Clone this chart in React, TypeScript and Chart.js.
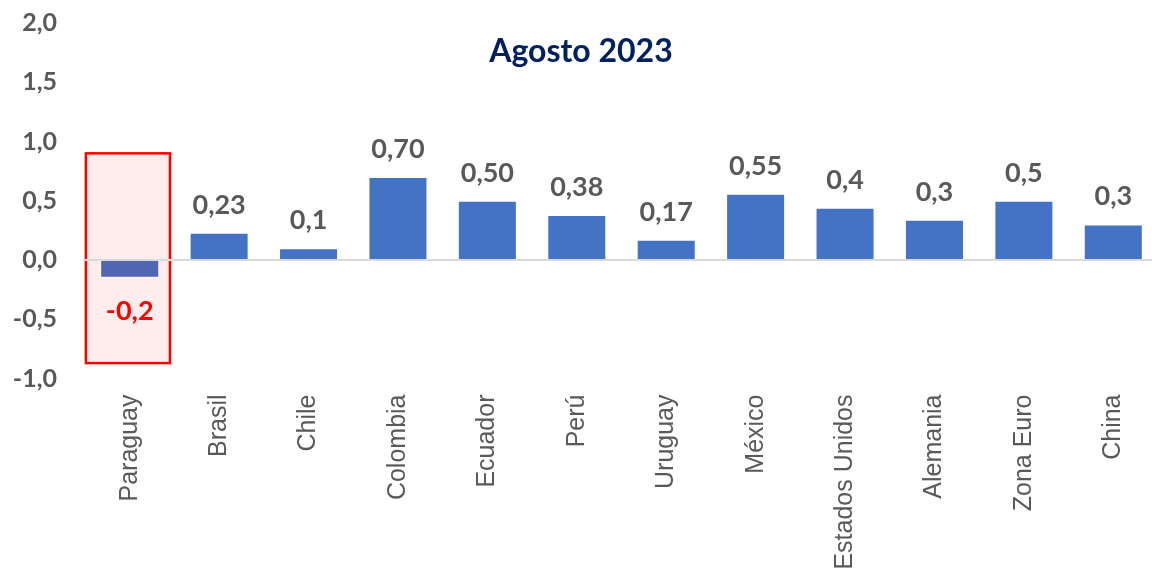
import React, { useEffect, useRef } from "react";
import { Chart, registerables } from "chart.js";

Chart.register(...registerables);

const categories = ["Paraguay", "Brasil", "Chile", "Colombia", "Ecuador", "Perú", "Uruguay", "México", "Estados Unidos", "Alemania", "Zona Euro", "China"];
const values = [-0.15, 0.23, 0.1, 0.7, 0.5, 0.38, 0.17, 0.56, 0.44, 0.34, 0.5, 0.3];
const valueLabels = ["-0,2", "0,23", "0,1", "0,70", "0,50", "0,38", "0,17", "0,55", "0,4", "0,3", "0,5", "0,3"];
const barColors = ["#5066B3", "#4472C4", "#4472C4", "#4472C4", "#4472C4", "#4472C4", "#4472C4", "#4472C4", "#4472C4", "#4472C4", "#4472C4", "#4472C4"];
const yTicks = [-1, -0.5, 0, 0.5, 1, 1.5, 2];
const titleText = "Agosto 2023";
const highlightRange = [0.9, -0.87];

const numFont = "Lato, 'Open Sans', sans-serif";

const overlayPlugin = {
  id: "overlay",
  beforeDraw(chart: any) {
    const { ctx, scales } = chart;
    const x = scales.x;
    const y = scales.y;
    const w = x.getPixelForValue(1) - x.getPixelForValue(0);
    const c = x.getPixelForValue(0);
    const left = c - 0.49 * w;
    const right = c + 0.45 * w;
    const top = y.getPixelForValue(highlightRange[0]);
    const bottom = y.getPixelForValue(highlightRange[1]);
    ctx.save();
    ctx.fillStyle = "#FFECEC";
    ctx.fillRect(left, top, right - left, bottom - top);
    ctx.lineWidth = 2.5;
    ctx.strokeStyle = "#FF0000";
    ctx.strokeRect(left, top, right - left, bottom - top);
    ctx.restore();
  },
  afterDatasetsDraw(chart: any) {
    const { ctx } = chart;
    const meta = chart.getDatasetMeta(0);
    ctx.save();
    ctx.textAlign = "center";
    ctx.textBaseline = "alphabetic";
    meta.data.forEach((bar: any, i: number) => {
      const v = values[i];
      if (v < 0) {
        ctx.fillStyle = "#FF0000";
        ctx.font = `bold 27px ${numFont}`;
        ctx.fillText(valueLabels[i], bar.x, bar.y + 42);
      } else {
        ctx.fillStyle = "#595959";
        ctx.font = `bold 27px ${numFont}`;
        ctx.fillText(valueLabels[i], bar.x, bar.y - 19);
      }
    });
    // title
    ctx.fillStyle = "#002060";
    ctx.font = `bold 32px ${numFont}`;
    ctx.fillText(titleText, 581, 62);
    ctx.restore();
  },
};

export default function App() {
  const ref = useRef<HTMLCanvasElement>(null);
  useEffect(() => {
    document.body.style.margin = "0";
    const chart = new Chart(ref.current as HTMLCanvasElement, {
      type: "bar",
      data: {
        labels: categories,
        datasets: [
          {
            data: values,
            backgroundColor: barColors,
            borderColor: "rgba(255,255,255,0.3)",
            borderWidth: 1,
            barPercentage: 0.66,
            categoryPercentage: 1,
          },
        ],
      },
      options: {
        animation: false,
        responsive: true,
        maintainAspectRatio: false,
        layout: { padding: { top: 23, right: 2, left: 0, bottom: 0 } },
        plugins: { legend: { display: false }, tooltip: { enabled: false }, title: { display: false } },
        scales: {
          x: {
            grid: { display: false, drawTicks: false },
            border: { display: false },
            afterFit: (s: any) => {
              s.height = 201.5;
            },
            ticks: {
              autoSkip: false,
              minRotation: 90,
              maxRotation: 90,
              padding: 16,
              color: "#595959",
              font: { family: "'Liberation Sans', Arial, sans-serif", size: 25 },
            },
          },
          y: {
            min: -1,
            max: 2,
            afterBuildTicks: (s: any) => {
              s.ticks = yTicks.map((v) => ({ value: v }));
            },
            afterFit: (s: any) => {
              s.width = 85;
              s.paddingTop = 0;
              s.paddingBottom = 0;
            },
            grid: {
              drawTicks: false,
              lineWidth: 2,
              color: (c: any) => (c.tick && c.tick.value === 0 ? "#D9D9D9" : "transparent"),
            },
            border: { display: false },
            ticks: {
              padding: 28,
              color: "#595959",
              font: { family: numFont, size: 25, weight: "bold" as any },
              callback: (v: any) => Number(v).toFixed(1).replace(".", ","),
            },
          },
        },
      },
      plugins: [overlayPlugin],
    });
    return () => chart.destroy();
  }, []);
  return (
    <div style={{ width: 1152, height: 580, overflow: "hidden", position: "relative" }}>
      <div style={{ width: 1160, height: 580, position: "absolute", left: 0, top: 0 }}>
        <canvas ref={ref} />
      </div>
    </div>
  );
}
